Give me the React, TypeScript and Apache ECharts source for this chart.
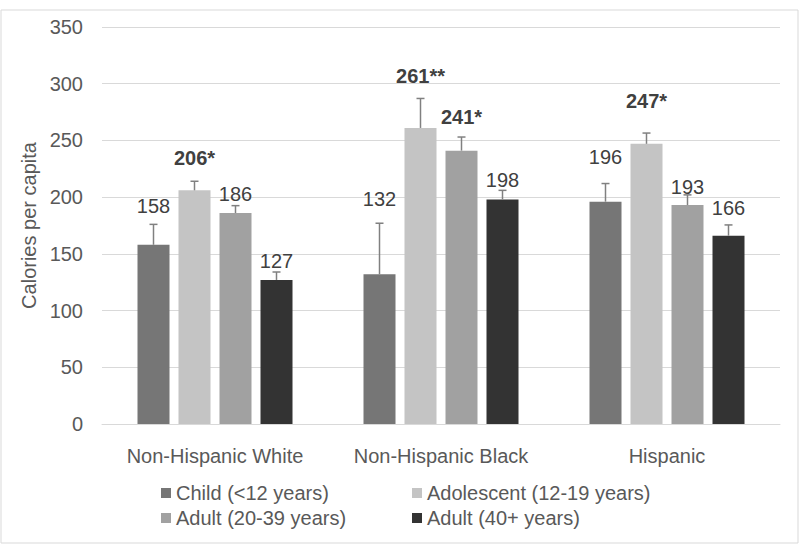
import React, { useEffect, useRef } from "react";
import * as echarts from "echarts";

const categories = ["Non-Hispanic White", "Non-Hispanic Black", "Hispanic"];
const seriesNames = [
  "Child (<12 years)",
  "Adolescent (12-19 years)",
  "Adult (20-39 years)",
  "Adult (40+ years)",
];
const childValues = [158, 132, 196];
const childErrors = [18, 45, 16];
const childSig = ["", "", ""];
const adolescentValues = [206, 261, 247];
const adolescentErrors = [8, 26, 9.5];
const adolescentSig = ["*", "**", "*"];
const adult2039Values = [186, 241, 193];
const adult2039Errors = [6.5, 12, 9];
const adult2039Sig = ["", "*", ""];
const adult40Values = [127, 198, 166];
const adult40Errors = [7, 8, 9.5];
const adult40Sig = ["", "", ""];
const yTicks = { min: 0, max: 350, interval: 50 };

// styling
const colors = ["#767676", "#c4c4c4", "#a1a1a1", "#333333"];
const BAR_W = 32;
const BAR_GAP = 9;
const labelLift = [
  [18, 24, 27],
  [23, 22, 32],
  [12, 20, 8],
  [11, 10, 17],
];
const FONT = "'Liberation Sans', Arial, sans-serif";

export default function App() {
  const ref = useRef<HTMLDivElement>(null);
  useEffect(() => {
    if (!ref.current) return;
    const chart = echarts.init(ref.current, null, { renderer: "svg" });
    const values = [childValues, adolescentValues, adult2039Values, adult40Values];
    const errors = [childErrors, adolescentErrors, adult2039Errors, adult40Errors];
    const sigs = [childSig, adolescentSig, adult2039Sig, adult40Sig];

    const barSeries = values.map((vals, i) => ({
      type: "bar",
      name: seriesNames[i],
      data: vals,
      barWidth: BAR_W,
      barGap: (BAR_GAP / BAR_W) * 100 + "%",
      itemStyle: { color: colors[i] },
      silent: true,
    }));

    const errSeries = values.map((vals, i) => ({
      type: "custom",
      name: "err" + i,
      clip: false,
      silent: true,
      z: 5,
      encode: { x: 0, y: 1 },
      data: vals.map((v, c) => [c, v, errors[i][c]]),
      renderItem: (params: any, api: any) => {
        const c = api.value(0);
        const v = api.value(1);
        const e = api.value(2);
        const base = api.coord([c, v]);
        const top = api.coord([c, v + e]);
        const x = base[0] + (i - 1.5) * (BAR_W + BAR_GAP);
        const sig = sigs[i][c];
        const stroke = "#808080";
        return {
          type: "group",
          children: [
            { type: "line", shape: { x1: x, y1: base[1], x2: x, y2: top[1] }, style: { stroke, lineWidth: 1.5 } },
            { type: "line", shape: { x1: x - 4, y1: top[1], x2: x + 4, y2: top[1] }, style: { stroke, lineWidth: 1.5 } },
            {
              type: "text",
              x,
              y: top[1] - labelLift[i][c],
              style: {
                text: String(vals[c]) + sig,
                fill: "#404040",
                fontSize: 20,
                fontWeight: sig ? "bold" : "normal",
                fontFamily: FONT,
                align: "center",
                verticalAlign: "middle",
              },
            },
          ],
        };
      },
    }));

    chart.setOption({
      animation: false,
      textStyle: { fontFamily: FONT },
      grid: { left: 102, right: 20, top: 27, bottom: 120 },
      graphic: [
        {
          type: "rect",
          shape: { x: 1, y: 10, width: 797, height: 533 },
          style: { fill: "none", stroke: "#d9d9d9", lineWidth: 1 },
          silent: true,
        },
      ],
      legend: [
        {
          data: [seriesNames[0], seriesNames[2]],
          orient: "vertical",
          left: 156,
          top: 478,
          itemWidth: 10,
          itemHeight: 10,
          itemGap: 5,
          icon: "rect",
          textStyle: { fontSize: 20, color: "#595959", fontFamily: FONT, lineHeight: 20 },
        },
        {
          data: [seriesNames[1], seriesNames[3]],
          orient: "vertical",
          left: 407,
          top: 478,
          itemWidth: 10,
          itemHeight: 10,
          itemGap: 5,
          icon: "rect",
          textStyle: { fontSize: 20, color: "#595959", fontFamily: FONT, lineHeight: 20 },
        },
      ],
      xAxis: {
        type: "category",
        data: categories,
        axisLine: { lineStyle: { color: "#d9d9d9", width: 1 } },
        axisTick: { show: false },
        axisLabel: { interval: 0, fontSize: 20, color: "#595959", margin: 22, fontFamily: FONT },
      },
      yAxis: {
        type: "value",
        min: yTicks.min,
        max: yTicks.max,
        interval: yTicks.interval,
        name: "Calories per capita",
        nameLocation: "middle",
        nameGap: 60,
        nameTextStyle: { fontSize: 20, color: "#595959", fontFamily: FONT },
        axisLine: { show: false },
        axisTick: { show: false },
        axisLabel: { fontSize: 20, color: "#595959", margin: 19, fontFamily: FONT },
        splitLine: { lineStyle: { color: "#d9d9d9", width: 1 } },
      },
      series: [...barSeries, ...errSeries],
    });
    return () => chart.dispose();
  }, []);
  return (
    <div
      ref={ref}
      style={{ position: "absolute", left: 0, top: 0, width: 800, height: 544, background: "#fff" }}
    />
  );
}
